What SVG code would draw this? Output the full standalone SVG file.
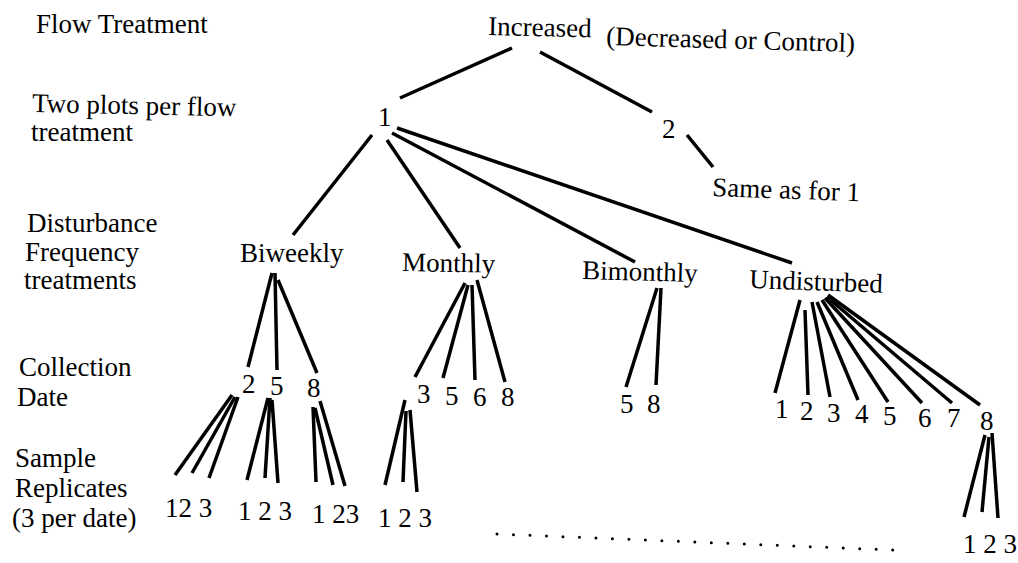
<svg xmlns="http://www.w3.org/2000/svg" width="1018" height="563" viewBox="0 0 1018 563">
<style>
text { font-family: "Liberation Serif", "Times New Roman", serif; font-size: 27px; fill: #000; }
.e line { stroke: #000; stroke-width: 3.5; stroke-linecap: butt; }
.dots { stroke: #000; stroke-width: 3; stroke-linecap: round; stroke-dasharray: 0 16.5; fill: none; }
</style>
<rect width="1018" height="563" fill="#fff"/>
<g id="level-labels">
<text x="36" y="33">Flow Treatment</text>
<text x="32" y="112" transform="rotate(1.2 32 112)">Two plots per flow</text>
<text x="31" y="141">treatment</text>
<text x="27" y="232">Disturbance</text>
<text x="25" y="261">Frequency</text>
<text x="24" y="289">treatments</text>
<text x="19" y="376">Collection</text>
<text x="17" y="406">Date</text>
<text x="15" y="467">Sample</text>
<text x="15" y="497">Replicates</text>
<text x="12" y="527">(3 per date)</text>
</g>
<g id="connectors" class="e">
<line x1="512" y1="48" x2="400" y2="98"/>
<line x1="540" y1="52" x2="652" y2="112"/>
<line x1="687" y1="135" x2="713" y2="167"/>
<line x1="372" y1="135" x2="293" y2="235"/>
<line x1="387" y1="140" x2="460" y2="248"/>
<line x1="392" y1="133" x2="635" y2="262"/>
<line x1="397" y1="128" x2="792" y2="263"/>
<line x1="272" y1="273" x2="248" y2="367"/>
<line x1="275" y1="273" x2="277" y2="370"/>
<line x1="278" y1="280" x2="317" y2="373"/>
<line x1="232" y1="395" x2="175" y2="475"/>
<line x1="235" y1="397" x2="192" y2="473"/>
<line x1="238" y1="397" x2="209" y2="478"/>
<line x1="268" y1="398" x2="247" y2="480"/>
<line x1="270" y1="398" x2="265" y2="478"/>
<line x1="272" y1="400" x2="278" y2="483"/>
<line x1="313" y1="407" x2="316" y2="482"/>
<line x1="315" y1="408" x2="333" y2="485"/>
<line x1="320" y1="401" x2="345" y2="486"/>
<line x1="465" y1="283" x2="415" y2="377"/>
<line x1="468" y1="285" x2="443" y2="378"/>
<line x1="472" y1="285" x2="475" y2="380"/>
<line x1="477" y1="280" x2="505" y2="382"/>
<line x1="405" y1="400" x2="385" y2="485"/>
<line x1="406" y1="411" x2="403" y2="482"/>
<line x1="410" y1="410" x2="417" y2="492"/>
<line x1="657" y1="288" x2="626" y2="387"/>
<line x1="661" y1="288" x2="656" y2="385"/>
<line x1="800" y1="300" x2="775" y2="393"/>
<line x1="805" y1="310" x2="808" y2="395"/>
<line x1="812" y1="302" x2="830" y2="397"/>
<line x1="817" y1="302" x2="858" y2="400"/>
<line x1="822" y1="300" x2="888" y2="402"/>
<line x1="825" y1="298" x2="922" y2="403"/>
<line x1="827" y1="297" x2="952" y2="403"/>
<line x1="828" y1="295" x2="980" y2="405"/>
<line x1="985" y1="435" x2="964" y2="517"/>
<line x1="989" y1="437" x2="982" y2="512"/>
<line x1="992" y1="433" x2="998" y2="518"/>
</g>
<g id="ellipsis"><path class="dots" d="M497 534 L893 550"/></g>
<g id="root"><text x="488" y="35" transform="rotate(1.2 488 35)">Increased</text><text x="606" y="45" transform="rotate(1.6 606 45)">(Decreased or Control)</text></g>
<g id="plot-1"><text x="378" y="126">1</text></g>
<g id="plot-2"><text x="662" y="138">2</text></g>
<g id="same-as-1"><text x="712" y="196" transform="rotate(2 712 196)">Same as for 1</text></g>
<g id="biweekly"><text x="240" y="262">Biweekly</text></g>
<g id="monthly"><text x="402" y="271" transform="rotate(1 402 271)">Monthly</text></g>
<g id="bimonthly"><text x="582" y="279" transform="rotate(1.5 582 279)">Bimonthly</text></g>
<g id="undisturbed"><text x="749" y="288" transform="rotate(2 749 288)">Undisturbed</text></g>
<g id="bw-2"><text x="242" y="393">2</text></g>
<g id="bw-5"><text x="270" y="395">5</text></g>
<g id="bw-8"><text x="307" y="397">8</text></g>
<g id="bw-2-reps"><text x="165" y="517">12 3</text></g>
<g id="bw-5-reps"><text x="238" y="520">1 2 3</text></g>
<g id="bw-8-reps"><text x="312" y="523">1 23</text></g>
<g id="mo-3"><text x="417" y="403">3</text></g>
<g id="mo-5"><text x="445" y="405">5</text></g>
<g id="mo-6"><text x="473" y="406">6</text></g>
<g id="mo-8"><text x="501" y="406">8</text></g>
<g id="mo-3-reps"><text x="378" y="527">1 2 3</text></g>
<g id="bm-5"><text x="620" y="413">5</text></g>
<g id="bm-8"><text x="647" y="413">8</text></g>
<g id="un-1"><text x="775" y="418">1</text></g>
<g id="un-2"><text x="800" y="420">2</text></g>
<g id="un-3"><text x="827" y="422">3</text></g>
<g id="un-4"><text x="855" y="423">4</text></g>
<g id="un-5"><text x="883" y="425">5</text></g>
<g id="un-6"><text x="918" y="427">6</text></g>
<g id="un-7"><text x="947" y="427">7</text></g>
<g id="un-8"><text x="980" y="430">8</text></g>
<g id="un-8-reps"><text x="963" y="553">1 2 3</text></g>
</svg>
